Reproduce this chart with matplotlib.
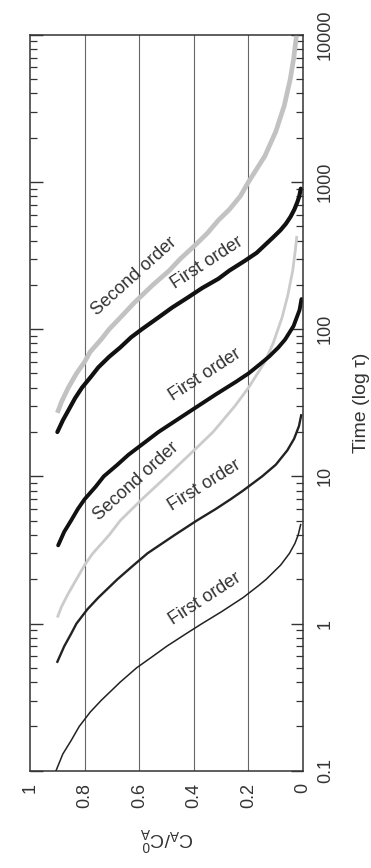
import matplotlib
matplotlib.use("Agg")
import matplotlib.pyplot as plt
from matplotlib.ticker import LogLocator, NullFormatter

plt.rcParams['font.family'] = ['Liberation Sans', 'DejaVu Sans']
plt.rcParams['mathtext.default'] = 'regular'

# Concentration decay curves: time (tau) vs C_A/C_A0
t_first_a = [0.1, 0.13, 0.16, 0.2, 0.25, 0.3, 0.4, 0.5, 0.6, 0.7, 0.85, 1.0, 1.2, 1.5, 1.8,
             2.0, 2.5, 3.0, 3.5, 4.0, 4.7]
c_first_a = [0.905, 0.88, 0.85, 0.82, 0.78, 0.74, 0.67, 0.61, 0.55, 0.50, 0.43, 0.37, 0.30,
             0.22, 0.165, 0.135, 0.082, 0.05, 0.03, 0.018, 0.009]

t_first_b = [0.55, 0.7, 0.85, 1.0, 1.25, 1.5, 2, 2.5, 3, 4, 5, 6, 7, 8, 10, 12, 15, 18, 22, 26]
c_first_b = [0.90, 0.875, 0.85, 0.83, 0.79, 0.75, 0.68, 0.62, 0.57, 0.47, 0.39, 0.32, 0.265,
             0.22, 0.15, 0.10, 0.058, 0.033, 0.015, 0.007]

t_second_c = [1.1, 1.3, 1.6, 2, 2.5, 3, 4, 5, 7, 10, 15, 20, 30, 40, 60, 80, 120, 170, 250, 350, 430]
c_second_c = [0.90, 0.885, 0.86, 0.83, 0.80, 0.77, 0.71, 0.67, 0.59, 0.50, 0.40, 0.33, 0.25,
              0.20, 0.14, 0.11, 0.077, 0.056, 0.038, 0.028, 0.023]

t_first_d = [3.4, 4.2, 5, 6, 7, 8.5, 10, 12, 14, 17, 20, 24, 28, 36, 44, 50, 58, 65, 75, 85,
             105, 135, 160]
c_first_d = [0.897, 0.875, 0.85, 0.825, 0.80, 0.76, 0.73, 0.68, 0.64, 0.58, 0.53, 0.465, 0.41,
             0.32, 0.245, 0.20, 0.157, 0.125, 0.091, 0.066, 0.035, 0.013, 0.006]

t_second_e = [27, 32, 40, 50, 60, 70, 85, 100, 125, 150, 200, 250, 300, 380, 450, 550, 650, 800,
              1000, 1500, 2200, 3300, 5000, 7000, 10000]
c_second_e = [0.90, 0.885, 0.86, 0.83, 0.80, 0.78, 0.74, 0.71, 0.66, 0.62, 0.55, 0.49, 0.45,
              0.39, 0.35, 0.31, 0.27, 0.23, 0.20, 0.14, 0.10, 0.069, 0.047, 0.034, 0.024]

t_first_f = [20, 24, 28, 34, 40, 48, 55, 65, 75, 88, 100, 120, 140, 165, 190, 220, 250, 290,
             330, 380, 420, 470, 520, 580, 650, 730, 800, 900]
c_first_f = [0.90, 0.88, 0.86, 0.835, 0.81, 0.775, 0.75, 0.71, 0.67, 0.63, 0.59, 0.53, 0.48,
             0.42, 0.37, 0.31, 0.27, 0.215, 0.17, 0.135, 0.11, 0.083, 0.063, 0.046, 0.032,
             0.021, 0.014, 0.0085]

c_ticks = [1, 0.8, 0.6, 0.4, 0.2, 0]
c_ticklabels = ['1', '0.8', '0.6', '0.4', '0.2', '0']
t_ticks = [0.1, 1, 10, 100, 1000, 10000]
t_ticklabels = ['0.1', '1', '10', '100', '1000', '10000']

# curve labels: (text, C, t, angle)
curve_labels = [
    ('First order', 0.36, 1.48, 33),
    ('First order', 0.36, 8.7, 32),
    ('Second order', 0.61, 9.25, 42),
    ('First order', 0.36, 49, 33),
    ('Second order', 0.62, 229, 42),
    ('First order', 0.35, 283, 33),
]

fig = plt.figure(figsize=(3.71, 8.68), dpi=100)
ax = fig.add_axes([0.081, 0.112, 0.736, 0.848])

gray_thick = '#c2c2c2'
gray_thin = '#cbcbcb'

# plotted sideways: concentration along x (1 -> 0), time on a log axis upward
ax.plot(c_second_e, t_second_e, color=gray_thick, lw=3.4, solid_capstyle='butt')
ax.plot(c_second_c, t_second_c, color=gray_thin, lw=2.0, solid_capstyle='butt')
ax.plot(c_first_f, t_first_f, color='#111111', lw=3.0, solid_capstyle='round')
ax.plot(c_first_d, t_first_d, color='#111111', lw=2.8, solid_capstyle='round')
ax.plot(c_first_b, t_first_b, color='#222222', lw=1.7)
ax.plot(c_first_a, t_first_a, color='#222222', lw=1.1)

for txt, c, t, ang in curve_labels:
    ax.text(c, t, txt, rotation=ang, rotation_mode='anchor', ha='center', va='center',
            fontsize=13, color='#333333')

ax.set_yscale('log')
ax.set_ylim(0.1, 10000)
ax.set_xlim(1, 0)

for c in [0.8, 0.6, 0.4, 0.2]:
    ax.axvline(c, color='#666666', lw=0.8, zorder=0)

ax.set_xticks(c_ticks)
ax.set_xticklabels(c_ticklabels, rotation=90, fontsize=13, color='#333333')
ax.tick_params(axis='x', length=0, pad=9)

ax.set_yticks(t_ticks)
ax.set_yticklabels(t_ticklabels, rotation=90, va='center', fontsize=13, color='#333333')
ax.yaxis.set_minor_locator(LogLocator(base=10, subs=range(2, 10)))
ax.yaxis.set_minor_formatter(NullFormatter())
ax.tick_params(axis='y', which='both', left=True, right=True, labelleft=False,
               labelright=True, direction='in', color='#333333')
ax.tick_params(axis='y', which='major', length=9, width=1.0, pad=10)
ax.tick_params(axis='y', which='minor', length=5, width=0.9)

ax.yaxis.set_label_position('right')
ax.set_ylabel('Time (log \u03c4)', fontsize=14, color='#333333', labelpad=14)
ax.set_xlabel('$C_A/C_A^0$', fontsize=14, color='#333333', rotation=180, labelpad=12)

for s in ax.spines.values():
    s.set_color('#333333')
    s.set_linewidth(1.1)

fig.savefig('out.png', dpi=100)
